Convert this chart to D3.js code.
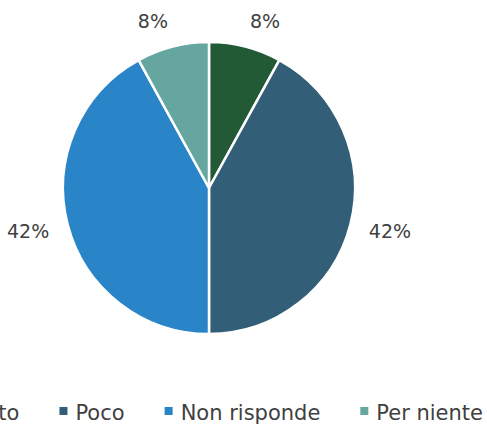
<!DOCTYPE html>
<html lang="it">
  <head>
    <meta charset="UTF-8" />
    <title>Pie</title>
    <script src="https://d3js.org/d3.v7.min.js"></script>
    <style>
      body { margin: 0; background: #fff; }
      text { font-family: "DejaVu Sans", Verdana, sans-serif; fill: #404040; }
    </style>
  </head>
  <body>
    <svg id="chart" width="487" height="426"></svg>
    <script>
      const categories = ["Molto", "Poco", "Non risponde", "Per niente"];
      const values = [8, 42, 42, 8];
      const colors = ["#225a35", "#325e78", "#2a84c8", "#65a6a0"];

      const svg = d3.select("#chart");
      const cx = 209, cy = 188, radius = 146;

      const data = categories.map((c, i) => ({ name: c, value: values[i] }));
      const total = d3.sum(values);
      const color = d3.scaleOrdinal().domain(categories).range(colors);

      const pie = d3.pie().value(d => d.value).sort(null);
      const arc = d3.arc().innerRadius(0).outerRadius(radius);
      const arcs = pie(data);

      const g = svg.append("g").attr("transform", `translate(${cx},${cy})`);

      g.selectAll("path")
        .data(arcs)
        .join("path")
        .attr("d", arc)
        .attr("fill", d => color(d.data.name))
        .attr("stroke", "#fff")
        .attr("stroke-width", 2.5)
        .attr("stroke-linejoin", "round");

      // labels outside end
      const fmt = d3.format(".0%");
      const labelR = radius + 19;
      g.selectAll("text.lbl")
        .data(arcs)
        .join("text")
        .attr("class", "lbl")
        .style("font-size", "19px")
        .each(function (d) {
          const a = (d.startAngle + d.endAngle) / 2;
          const s = Math.sin(a), c = Math.cos(a);
          const px = s * labelR, py = -c * labelR;
          const t = d3.select(this).text(fmt(d.value / total));
          const h = 14;
          t.attr("x", px)
            .attr("y", py - c * h / 2 + h / 2)
            .attr("text-anchor", Math.abs(s) < 0.05 ? "middle" : (s > 0 ? "start" : "end"));
        });

      // legend
      const legend = svg.append("g").attr("class", "legend");
      const markerSize = 8, markerGap = 8, itemGap = 40, legendY = 420;
      const items = legend.selectAll("g")
        .data(categories)
        .join("g");
      items.append("rect")
        .attr("width", markerSize)
        .attr("height", markerSize)
        .attr("y", -13)
        .attr("fill", d => color(d));
      items.append("text")
        .attr("x", markerSize + markerGap)
        .style("font-size", "21px")
        .text(d => d);

      const widths = [];
      items.each(function () {
        const w = this.querySelector("text").getComputedTextLength() + markerSize + markerGap;
        widths.push(w);
      });
      const offsets = widths.map((w, i) => d3.sum(widths.slice(0, i)) + i * itemGap);
      const totalW = offsets[offsets.length - 1] + widths[widths.length - 1];
      const startX = 483 - totalW;
      items.attr("transform", (d, i) => `translate(${startX + offsets[i]},${legendY})`);
    </script>
  </body>
</html>
